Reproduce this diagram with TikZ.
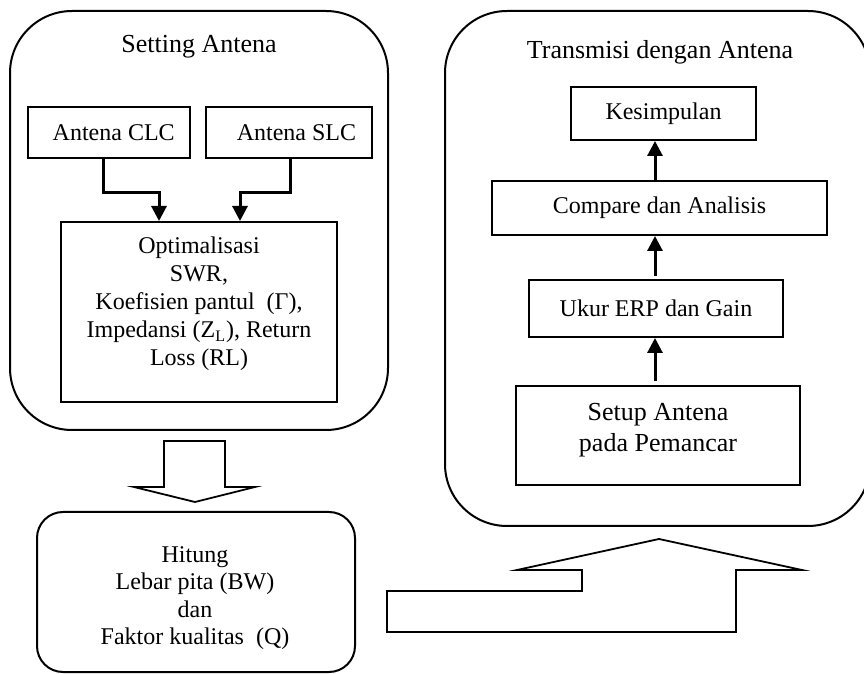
\documentclass[tikz,border=0pt]{standalone}
\usepackage{fontspec}
\setmainfont{Liberation Serif}
\usetikzlibrary{arrows.meta}
\begin{document}
\begin{tikzpicture}[x=0.5pt,y=-0.5pt,
  frame/.style={draw,line width=1pt,rounded corners=31pt,inner sep=0pt},
  smallframe/.style={draw,line width=1pt,rounded corners=13pt,inner sep=0pt},
  stepbox/.style={draw,line width=1pt,inner sep=0pt,font=\fontsize{12}{14}\selectfont},
  title/.style={inner sep=0pt,font=\fontsize{13}{15}\selectfont},
  txt/.style={align=center,inner sep=0pt},
  flow/.style={line width=1.5pt,-{Triangle[width=7.5pt,length=7.5pt]}},
  fat/.style={draw,line width=0.9pt,line join=miter}]
\useasboundingbox (0,0) rectangle (864,674);
\clip (0,0) rectangle (864,674);

% group frames
\node[frame,minimum width=189pt,minimum height=209.5pt] (setframe) at (199,220.5) {};
\node[frame,minimum width=212.5pt,minimum height=257.5pt] (txframe) at (657.5,268.5) {};
\node[smallframe,minimum width=159pt,minimum height=80pt] (calcbox) at (196,592) {};

\node[title] (settitle) at (199,47) {Setting Antena};
\node[title] (txtitle) at (660,52) {Transmisi dengan Antena};

% antenna setting
\node[stepbox,minimum width=81pt,minimum height=25.5pt] (clc) at (109,132.5) {\hspace*{4.7pt}Antena CLC};
\node[stepbox,minimum width=83pt,minimum height=25.5pt] (slc) at (289,132.5) {\hspace*{7.5pt}Antena SLC};
\node[stepbox,minimum width=138pt,minimum height=90pt] (opt) at (199,312) {};
\node[txt,font=\fontsize{12}{14}\selectfont] (opttext) at (199,304)
  {Optimalisasi\\SWR,\\Koefisien pantul\ \ (Γ),\\Impedansi (Z\textsubscript{L}), Return\\Loss (RL)};

\draw[flow] ([xshift=-3pt]clc.south) -- ++(0,-17pt) -| ([xshift=-20pt]opt.north);
\draw[flow] ([xshift=0.5pt]slc.south) -- ++(0,-17pt) -| ([xshift=20.5pt]opt.north);

% calculation box text
\node[txt,font=\fontsize{12}{13.7}\selectfont] (calctext) at (195,598)
  {Hitung\\Lebar pita (BW)\\dan\\Faktor kualitas\ \ (Q)};

% transmission chain
\node[stepbox,minimum width=92.5pt,minimum height=26.5pt] (kes) at (663.5,113.5) {Kesimpulan};
\node[stepbox,minimum width=167.5pt,minimum height=27pt] (cmp) at (659.5,208) {Compare dan Analisis};
\node[stepbox,minimum width=127pt,minimum height=28.5pt] (ukur) at (656,308.5) {Ukur ERP dan Gain};
\node[stepbox,minimum width=142pt,minimum height=49.5pt] (setup) at (658,435.5) {};
\node[txt,font=\fontsize{13}{15.5}\selectfont] (setuptext) at (658,430)
  {Setup Antena\\pada Pemancar};

\coordinate (ax) at (655,0);
\draw[flow] ([yshift=2pt]setup.north -| ax) -- (ukur.south -| ax);
\draw[flow] ([yshift=1.5pt]ukur.north -| ax) -- (cmp.south -| ax);
\draw[flow] (cmp.north -| ax) -- (kes.south -| ax);

% block arrows between the groups
\draw[fat] (164,441) -- (225,441) -- (225,487) -- (255,487) -- (195,502)
  -- (134,487) -- (164,487) -- cycle;
\draw[fat] (387,591) -- (582,591) -- (582,570) -- (517,570) -- (659,539)
  -- (802,570) -- (736,570) -- (736,632) -- (387,632) -- cycle;
\end{tikzpicture}
\end{document}
